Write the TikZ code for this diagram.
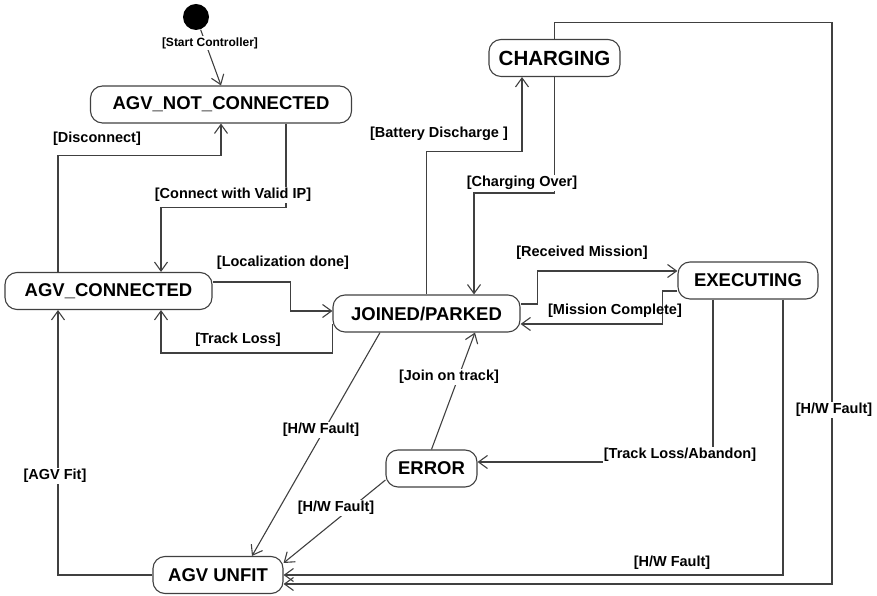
\documentclass[tikz,border=0pt]{standalone}
\usepackage{fontspec}
\setmainfont{Liberation Sans}
\usetikzlibrary{arrows.meta}

\begin{document}
\begin{tikzpicture}[x=1pt,y=1pt,
    line width=1.1pt, draw=black!75,
    state/.style={draw, rounded corners=12pt, minimum height=37pt, inner sep=0pt,
      font=\bfseries\fontsize{18.5}{20}\selectfont},
    lbl/.style={fill=white, inner sep=1pt, font=\bfseries\fontsize{14.5}{16}\selectfont},
    arr/.style={-{Straight Barb[length=9pt,width=13pt]}}]
  \useasboundingbox (0,0) rectangle (877,596);

  % Zustaende
  \node[circle, fill=black, minimum size=26pt, inner sep=0pt] (start) at (196,579) {};
  \node[state, minimum width=261pt] (notconn) at (221,491.5) {AGV\_NOT\_CONNECTED};
  \node[state, minimum width=207pt] (conn) at (108.5,305) {AGV\_CONNECTED};
  \node[state, minimum width=187pt] (joined) at (426.5,282.5) {JOINED/PARKED};
  \node[state, minimum width=131pt, font=\bfseries\fontsize{20.5}{22}\selectfont] (charging) at (554.5,538) {CHARGING};
  \node[state, minimum width=140pt] (executing) at (748,315.5) {EXECUTING};
  \node[state, minimum width=91pt] (error) at (431.5,127.5) {ERROR};
  \node[state, minimum width=130pt] (unfit) at (218,21) {AGV UNFIT};

  % Start
  \draw[arr] (start) -- (notconn.north);
  % verbinden / trennen
  \draw[arr] ([xshift=-50.5pt]conn.north) -- ++(0,116) -| (notconn.south);
  \draw[arr] ([xshift=65pt]notconn.south) -- ++(0,-84) -| ([xshift=52.5pt]conn.north);
  % Lokalisierung / Spurverlust
  \draw[arr] ([yshift=9pt]conn.east) -- ++(78,0) |- ([yshift=2.5pt]joined.west);
  \draw[arr] ([yshift=-11pt]joined.west) -- ++(0,-28.5) -| ([xshift=52.5pt]conn.south);
  % Laden
  \draw[arr] (joined.north) -- ++(0,143) -| ([xshift=-32.5pt]charging.south);
  \draw[arr] (charging.south) -- ++(0,-116) -| ([xshift=47.5pt]joined.north);
  % Mission
  \draw[arr] ([yshift=9.5pt]joined.east) -- ++(17,0) |- ([yshift=9.5pt]executing.west);
  \draw[arr] ([yshift=-10.5pt]executing.west) -- ++(-15,0) |- ([yshift=-10.5pt]joined.east);
  \draw[arr] ([xshift=-35pt]executing.south) |- ([yshift=6.5pt]error.east);
  \draw[arr] (error.north) -- ([xshift=48.5pt]joined.south);
  % Hardwarefehler
  \draw[arr] ([xshift=-46.5pt]joined.south) -- ([xshift=34pt]unfit.north);
  \draw[arr] ([yshift=-11.5pt]error.west) -- ([yshift=12pt]unfit.east);
  \draw[arr] ([xshift=35pt]executing.south) |- (unfit.east);
  \draw[arr] (charging.north) -- ++(0,16) -- ++(277.5,0) |- ([yshift=-9pt]unfit.east);
  \draw[arr] (unfit.west) -| ([xshift=-50.5pt]conn.south);

  % Bedingungen
  \node[lbl, font=\bfseries\fontsize{12}{13}\selectfont] (lstart) at (210,553) {[Start Controller]};
  \node[lbl] (ldisc) at (97,457) {[Disconnect]};
  \node[lbl] (lconnect) at (233,401) {[Connect with Valid IP]};
  \node[lbl] (lloc) at (283,333) {[Localization done]};
  \node[lbl] (ltrack) at (238,256) {[Track Loss]};
  \node[lbl] (lbatt) at (439,462) {[Battery Discharge ]};
  \node[lbl] (lchg) at (522,413) {[Charging Over]};
  \node[lbl] (lrecv) at (582,343) {[Received Mission]};
  \node[lbl, fill=none] (lcompl) at (615,285) {[Mission Complete]};
  \node[lbl] (ljoin) at (449,219) {[Join on track]};
  \node[lbl] (labandon) at (680,141) {[Track Loss/Abandon]};
  \node[lbl] (lhw1) at (321,166) {[H/W Fault]};
  \node[lbl] (lhw2) at (336,88) {[H/W Fault]};
  \node[lbl] (lhw3) at (672,33) {[H/W Fault]};
  \node[lbl] (lhw4) at (834,186) {[H/W Fault]};
  \node[lbl] (lfit) at (55,120) {[AGV Fit]};
\end{tikzpicture}
\end{document}
